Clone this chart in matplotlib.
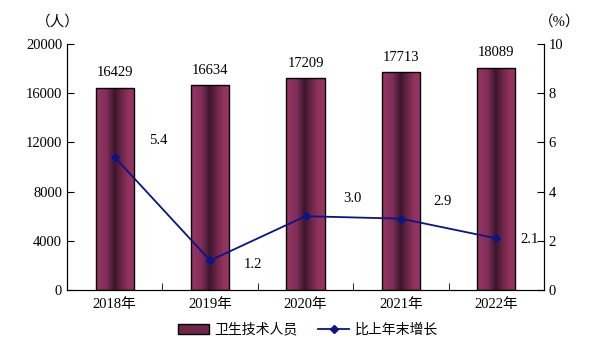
import numpy as np
import matplotlib.pyplot as plt
from matplotlib.colors import LinearSegmentedColormap
from matplotlib.patches import Rectangle
from matplotlib.lines import Line2D

plt.rcParams['font.family'] = ['Liberation Serif', 'Noto Sans CJK SC']

# 数据
years = ['2018年', '2019年', '2020年', '2021年', '2022年']
staff = [16429, 16634, 17209, 17713, 18089]
growth = [5.4, 1.2, 3.0, 2.9, 2.1]
growth_labels = ['5.4', '1.2', '3.0', '2.9', '2.1']

# 柱子的横向渐变
bar_cmap = LinearSegmentedColormap.from_list(
    'bar', [(0.0, '#993565'), (0.28, '#802d57'), (0.48, '#3b172a'),
            (0.66, '#6c2547'), (0.82, '#8f315e'), (1.0, '#9a3666')])

fig = plt.figure(figsize=(5.9, 3.5), dpi=100)
ax = fig.add_axes([67 / 590, 60 / 350, 477 / 590, 246 / 350])
ax2 = ax.twinx()

x = np.arange(len(years))
width = 0.4
grad = np.linspace(0, 1, 256).reshape(1, -1)
bars = ax.bar(x, staff, width, color='none', edgecolor='black', linewidth=1.0, zorder=3)
for b in bars:
    x0, y0 = b.get_x(), b.get_y()
    im = ax.imshow(grad, cmap=bar_cmap, aspect='auto', zorder=2,
                   extent=[x0, x0 + b.get_width(), y0, y0 + b.get_height()])
    im.set_clip_path(b)

for xi, v in zip(x, staff):
    ax.text(xi, v + 700, str(v), ha='center', va='bottom', fontsize=10.5)

ax.set_xlim(-0.5, 4.5)
ax.set_ylim(0, 20000)
ax.set_yticks(np.arange(0, 20001, 4000))
ax.set_xticks(x)
ax.set_xticklabels(years, fontsize=10.5)
ax.set_xticks(np.arange(0.5, 4.5, 1), minor=True)
ax.tick_params(axis='x', which='major', length=0, pad=6)
ax.tick_params(axis='x', which='minor', direction='in', length=5)
ax.tick_params(axis='y', direction='in', length=5, labelsize=10.5)
ax.spines['top'].set_visible(False)

ax2.plot(x, growth, color='#0a1486', linewidth=1.3, marker='D', markersize=4.5, zorder=5)
ax2.set_ylim(0, 10)
ax2.set_yticks(np.arange(0, 11, 2))
ax2.tick_params(axis='y', direction='in', length=5, labelsize=10.5)
ax2.spines['top'].set_visible(False)

# 增长率标注，偏移量单位为点
offsets = [(31, 12), (31, -3), (34, 13), (30, 12), (24, -1)]
for xi, v, lab, off in zip(x, growth, growth_labels, offsets):
    ax2.annotate(lab, (xi, v), xytext=off, textcoords='offset points',
                 ha='center', va='center', fontsize=10.5)

fig.text(58 / 590, 1 - 22 / 350, '（人）', ha='center', va='center', fontsize=10.5)
fig.text(560 / 590, 1 - 22 / 350, '（%）', ha='center', va='center', fontsize=10.5)

# 图例
handles = [Rectangle((0, 0), 1, 1, facecolor='#6e2648', edgecolor='black', linewidth=1.0),
           Line2D([], [], color='#0a1486', linewidth=1.3, marker='D', markersize=4.5)]
fig.legend(handles, ['卫生技术人员', '比上年末增长'], loc='center',
           bbox_to_anchor=(308 / 590, 1 - 330 / 350), ncol=2, frameon=False,
           fontsize=10, handlelength=2.2, columnspacing=1.5, handletextpad=0.4)

fig.savefig('out.png', dpi=100)
